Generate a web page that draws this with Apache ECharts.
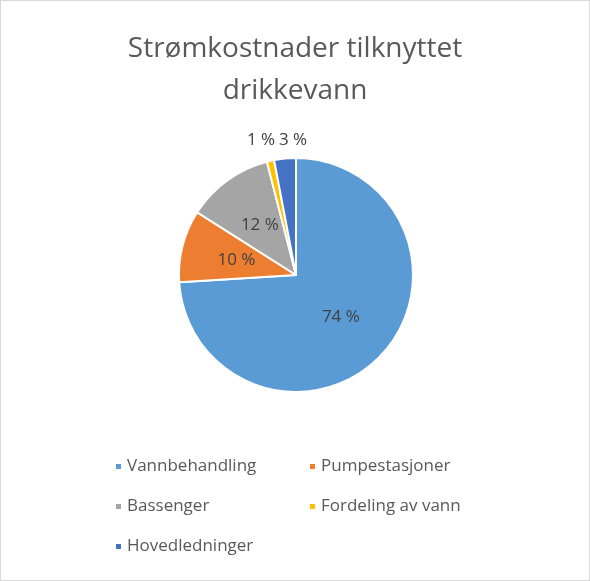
<!DOCTYPE html>
<html><head><meta charset="utf-8">
<script src="https://cdn.jsdelivr.net/npm/echarts@6/dist/echarts.min.js"></script>
<style>
html,body{margin:0;padding:0;background:#fff;}
#chart{position:absolute;left:0;top:0;width:588px;height:579px;border:1px solid #d9d9d9;}
</style></head>
<body><div id="chart"></div>
<script>
var categories = ['Vannbehandling','Pumpestasjoner','Bassenger','Fordeling av vann','Hovedledninger'];
var values = [74, 10, 12, 1, 3];
var colors = ['#5b9bd5','#ed7d31','#a5a5a5','#ffc000','#4472c4'];
var outside = [false, false, false, true, true];
var outsideLabelX = {3: 260, 4: 292};

var chart = echarts.init(document.getElementById('chart'));
var data = categories.map(function(name, i){
  var d = {name: name, value: values[i], itemStyle: {color: colors[i]}};
  if (outside[i]) {
    d.label = {position: 'outside', distance: 6};
    d.labelLine = {show: false};
  }
  return d;
});
var legendText = {color: '#595959', fontSize: 17, fontFamily: 'Open Sans'};
chart.setOption({
  animation: false,
  title: {
    text: 'Strømkostnader tilknyttet\ndrikkevann',
    left: 'center', top: 22,
    textStyle: {color: '#595959', fontSize: 28, fontWeight: 'normal', fontFamily: 'Open Sans', lineHeight: 42}
  },
  legend: [
    {data: [categories[0], categories[2], categories[4]], orient: 'vertical', left: 108, top: 452,
     itemWidth: 7, itemHeight: 7, itemGap: 23, icon: 'rect', textStyle: legendText},
    {data: [categories[1], categories[3]], orient: 'vertical', left: 302, top: 452,
     itemWidth: 7, itemHeight: 7, itemGap: 23, icon: 'rect', textStyle: legendText}
  ],
  series: [{
    type: 'pie',
    center: [295, 274],
    radius: [0, 117],
    startAngle: 90,
    clockwise: true,
    itemStyle: {borderColor: '#fff', borderWidth: 2},
    label: {position: 'inside', formatter: '{c} %', color: '#404040', fontSize: 17, fontFamily: 'Open Sans'},
    labelLayout: function(p){
      if (outsideLabelX[p.dataIndex] !== undefined) {
        return {x: outsideLabelX[p.dataIndex], y: 139, align: 'center', verticalAlign: 'middle'};
      }
      return {};
    },
    data: data
  }]
});
</script></body></html>
